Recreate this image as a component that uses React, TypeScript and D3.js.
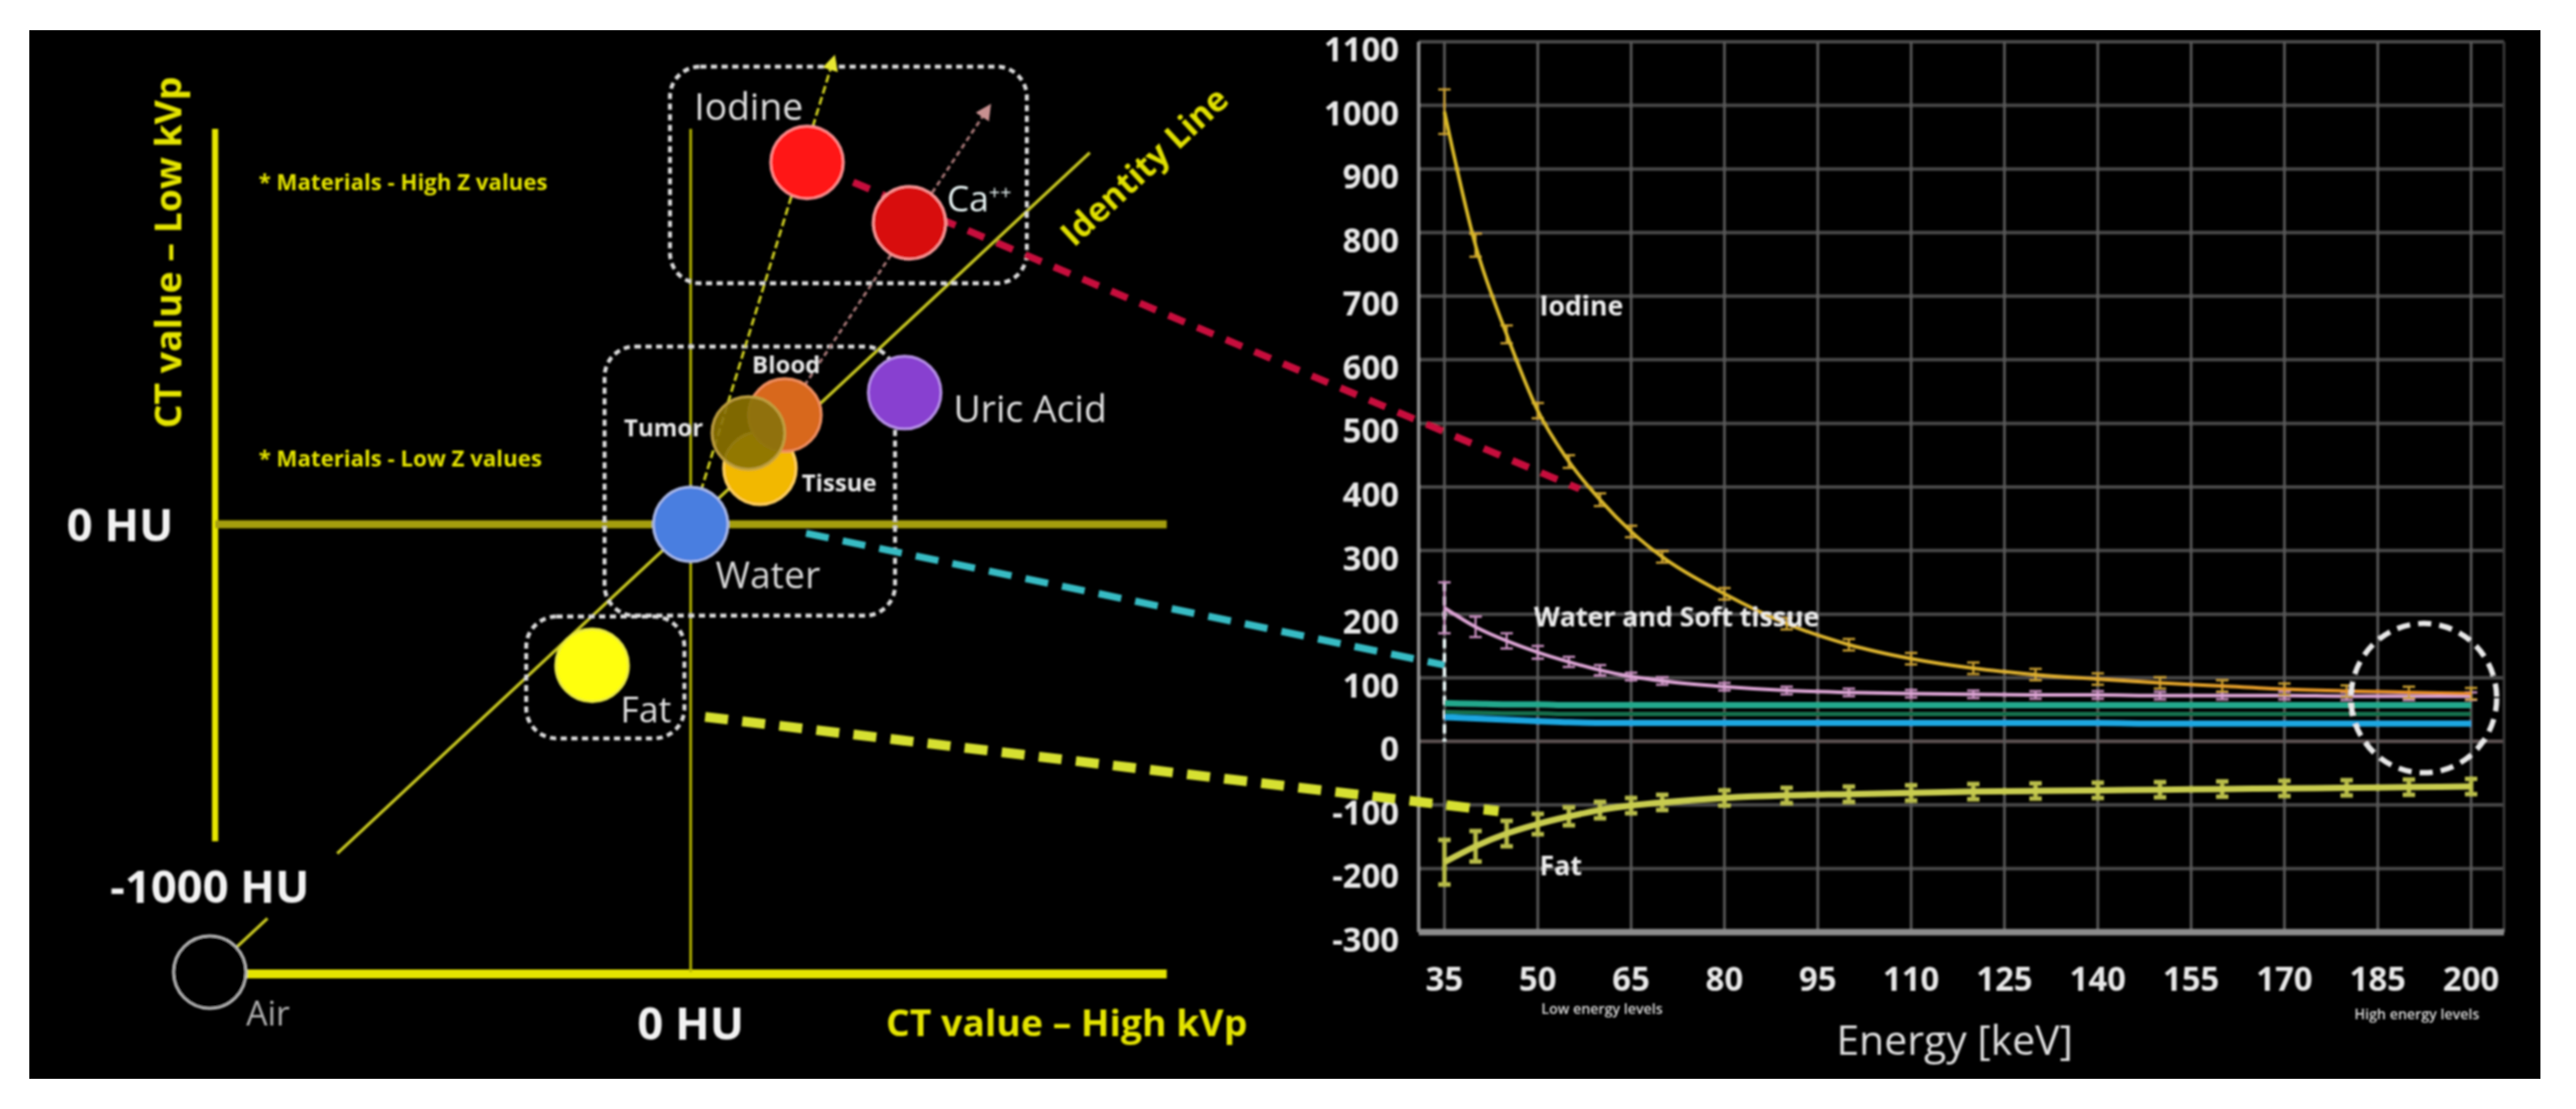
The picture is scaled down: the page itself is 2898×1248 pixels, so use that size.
import React, { useEffect, useRef } from "react";
import * as d3 from "d3";

// ---- right panel: CT value (HU) against virtual mono energy (keV)
const energyTicks = [35, 50, 65, 80, 95, 110, 125, 140, 155, 170, 185, 200];
const huTicks = [-300, -200, -100, 0, 100, 200, 300, 400, 500, 600, 700, 800, 900, 1000, 1100];
const energies = [35, 40, 45, 50, 55, 60, 65, 70, 80, 90, 100, 110, 120, 130, 140, 150, 160, 170, 180, 190, 200];
const iodineHU = [990, 780, 640, 520, 440, 380, 330, 290, 232, 185, 152, 130, 115, 105, 98, 92, 87, 82, 79, 77, 75];
const iodineErr = [35, 18, 14, 12, 10, 10, 9, 9, 9, 9, 9, 9, 9, 9, 9, 9, 9, 9, 9, 9, 9];
const waterHU = [210, 180, 158, 140, 125, 112, 102, 95, 86, 80, 77, 75, 74, 73, 73, 72, 72, 72, 71, 71, 71];
const waterErr = [40, 16, 12, 10, 8, 8, 6, 6, 6, 6, 6, 6, 6, 6, 6, 6, 6, 6, 6, 6, 6];
const tealHU = [60, 59, 58, 58, 57, 57, 57, 57, 57, 57, 57, 57, 57, 57, 57, 57, 57, 57, 57, 57, 57];
const greenHU = [46, 45, 44, 44, 43, 43, 43, 43, 43, 43, 43, 43, 43, 43, 43, 43, 43, 43, 43, 43, 43];
const cyanHU = [38, 36, 34, 32, 30, 29, 29, 29, 29, 29, 29, 29, 29, 29, 29, 28, 28, 28, 28, 28, 28];
const fatHU = [-190, -165, -145, -130, -118, -108, -101, -96, -89, -85, -83, -81, -79, -78, -77, -76, -75, -74, -73, -72, -71];
const fatErr = [35, 24, 20, 16, 14, 13, 12, 12, 12, 12, 12, 12, 12, 12, 12, 12, 12, 12, 12, 12, 12];

// ---- left panel: CT value at high kVp (x) against low kVp (y), HU
const materials = ["Air", "Fat", "Water", "Tissue", "Blood", "Tumor", "Uric Acid", "Iodine", "Ca"];
const highKvpHU = [-1000, -205, 0, 144, 196, 120, 445, 242, 455];
const lowKvpHU = [-1000, -315, 0, 125, 244, 204, 294, 808, 673];

const matStyle: Record<string, any> = {
  Air: { fill: "#000", stroke: "#b8b8b8", text: "#b0b0b0", dx: 41, dy: 60, size: 38, weight: 400 },
  Fat: { fill: "#ffff10", stroke: "#e8e840", text: "#e0e0e0", dx: 32, dy: 64, size: 40, weight: 400 },
  Water: { fill: "#4a7ee0", stroke: "#a8b8e8", text: "#d8d8d8", dx: 28, dy: 72, size: 42, weight: 400 },
  Tissue: { fill: "#f2b800", stroke: "#ffd060", text: "#e8e8e8", dx: 47, dy: 26, size: 27, weight: 700 },
  Blood: { fill: "#d8681e", stroke: "#f09060", text: "#e8e8e8", dx: -37, dy: -47, size: 27, weight: 700 },
  Tumor: { fill: "#8a7206", stroke: "#c0a040", text: "#e8e8e8", dx: -51, dy: 4, size: 27, weight: 700, anchor: "end" },
  "Uric Acid": { fill: "#8840d0", stroke: "#b890e8", text: "#e0e0e0", dx: 55, dy: 33, size: 42, weight: 400 },
  Iodine: { fill: "#ff1414", stroke: "#ff9090", text: "#e0e0e0", dx: -127, dy: -48, size: 42, weight: 400 },
  Ca: { fill: "#d80a0a", stroke: "#ff9a9a", text: "#e8f4f4", dx: 42, dy: -13, size: 40, weight: 400 },
};

// grouping boxes, in HU of the left panel [x0, x1, yTop, yBottom]
const boxesHU = [
  [-43, 699, 1022, 538],
  [-179, 425, 397, -204],
  [-342, -13, -206, -478],
];

// dashed links from the left panel (HU, HU) to the right panel (keV, HU)
const linkFrom = [[338, 764], [240, -20], [30, -430]];
const linkTo = [[56.7, 397], [35, 120], [43.7, -110]];
const linkColor = ["#c8103c", "#38bcc4", "#d6e030"];

function App() {
  const ref = useRef<SVGSVGElement | null>(null);

  useEffect(() => {
    drawChart();
  }, []);

  const drawChart = () => {
    const W = 2898, H = 1248;
    const svg = d3.select(ref.current);
    svg.selectAll("*").remove();

    const defs = svg.append("defs");
    defs.append("filter").attr("id", "soft")
      .append("feGaussianBlur").attr("stdDeviation", 0.9);
    const addArrow = (id: string, color: string) => {
      defs.append("marker").attr("id", id)
        .attr("viewBox", "0 0 10 10").attr("refX", 8).attr("refY", 5)
        .attr("markerWidth", 6).attr("markerHeight", 6).attr("orient", "auto")
        .append("path").attr("d", "M0,0 L10,5 L0,10 z").attr("fill", color);
    };
    addArrow("arrYellow", "#e8e830");
    addArrow("arrPink", "#c89090");
    const grad = defs.append("linearGradient").attr("id", "iodGrad")
      .attr("gradientUnits", "userSpaceOnUse");

    svg.append("rect").attr("width", W).attr("height", H).attr("fill", "#fff");
    svg.append("rect").attr("x", 33).attr("y", 34).attr("width", 2825).attr("height", 1180).attr("fill", "#000");

    const g = svg.append("g").attr("filter", "url(#soft)");

    // ================= right panel =================
    const xR = d3.scaleLinear().domain([35, 200]).range([1625, 2780]);
    const yR = d3.scaleLinear().domain([-300, 1100]).range([1049, 47]);
    const left = xR(35) - 29, right = xR(200) + 37;
    grad.attr("x1", xR(35)).attr("x2", xR(200)).attr("y1", 0).attr("y2", 0);
    grad.append("stop").attr("offset", 0).attr("stop-color", "#d8b828");
    grad.append("stop").attr("offset", 0.55).attr("stop-color", "#dcb030");
    grad.append("stop").attr("offset", 1).attr("stop-color", "#e88a24");

    const grid = g.append("g");
    grid.selectAll("line.h").data(huTicks).enter().append("line")
      .attr("x1", left).attr("x2", right)
      .attr("y1", d => yR(d)).attr("y2", d => yR(d))
      .attr("stroke", d => (d === 0 ? "#5e5252" : "#474747"))
      .attr("stroke-width", d => (d === -300 ? 7 : 4));
    grid.selectAll("line.v").data(energyTicks).enter().append("line")
      .attr("x1", d => xR(d)).attr("x2", d => xR(d))
      .attr("y1", yR(1100)).attr("y2", yR(-300))
      .attr("stroke", "#5a5a5a").attr("stroke-width", 3);
    grid.append("line").attr("x1", left).attr("x2", left)
      .attr("y1", yR(1100)).attr("y2", yR(-300))
      .attr("stroke", "#8a8a8a").attr("stroke-width", 4);
    grid.append("line").attr("x1", right).attr("x2", right)
      .attr("y1", yR(1100)).attr("y2", yR(-300))
      .attr("stroke", "#3a3a3a").attr("stroke-width", 3);
    grid.append("line").attr("x1", left).attr("x2", right)
      .attr("y1", yR(-300)).attr("y2", yR(-300))
      .attr("stroke", "#8c8c8c").attr("stroke-width", 7);

    const rFont = "'Open Sans', 'DejaVu Sans', sans-serif";
    g.append("g").selectAll("text").data(huTicks).enter().append("text")
      .attr("x", left - 22).attr("y", d => yR(d) + 22)
      .attr("text-anchor", "end").attr("fill", "#e8e8e8")
      .style("font-family", rFont).style("font-weight", 700).style("font-size", "37px")
      .text(d => String(d));
    g.append("g").selectAll("text").data(energyTicks).enter().append("text")
      .attr("x", d => xR(d)).attr("y", yR(-300) + 66)
      .attr("text-anchor", "middle").attr("fill", "#e8e8e8")
      .style("font-family", rFont).style("font-weight", 700).style("font-size", "37px")
      .text(d => String(d));
    g.append("text").attr("x", xR(50) + 4).attr("y", yR(-300) + 92)
      .attr("fill", "#dcdcdc").style("font-family", rFont).style("font-weight", 600)
      .style("font-size", "16px").text("Low energy levels");
    g.append("text").attr("x", xR(194) - 19).attr("y", yR(-300) + 98)
      .attr("text-anchor", "middle")
      .attr("fill", "#dcdcdc").style("font-family", rFont).style("font-weight", 600)
      .style("font-size", "16px").text("High energy levels");
    g.append("text").attr("x", xR(117)).attr("y", yR(-300) + 138)
      .attr("text-anchor", "middle").attr("fill", "#e0e0e0")
      .style("font-family", rFont).style("font-size", "46px").text("Energy [keV]");

    const curve = d3.line<number>()
      .x((d, i) => xR(energies[i]))
      .y(d => yR(d))
      .curve(d3.curveMonotoneX);

    const errorBars = (vals: number[], errs: number[], color: string, w: number) => {
      const eg = g.append("g").attr("stroke", color).attr("stroke-width", w).attr("fill", "none");
      vals.forEach((v, i) => {
        const x = xR(energies[i]);
        eg.append("line").attr("x1", x).attr("x2", x).attr("y1", yR(v - errs[i])).attr("y2", yR(v + errs[i]));
        eg.append("line").attr("x1", x - 7).attr("x2", x + 7).attr("y1", yR(v - errs[i])).attr("y2", yR(v - errs[i]));
        eg.append("line").attr("x1", x - 7).attr("x2", x + 7).attr("y1", yR(v + errs[i])).attr("y2", yR(v + errs[i]));
      });
    };

    // white dashed bar at the lowest energy
    g.append("line").attr("x1", xR(35)).attr("x2", xR(35))
      .attr("y1", yR(waterHU[0] + waterErr[0])).attr("y2", yR(0))
      .attr("stroke", "#e8f4f4").attr("stroke-width", 4).attr("stroke-dasharray", "10,6");

    const lines: [number[], string, number][] = [
      [cyanHU, "#1aa6e0", 7],
      [greenHU, "#17704e", 5],
      [tealHU, "#24a88c", 7],
    ];
    lines.forEach(([vals, color, w]) => {
      g.append("path").datum(vals).attr("d", curve)
        .attr("fill", "none").attr("stroke", color).attr("stroke-width", w);
    });

    errorBars(fatHU, fatErr, "#b8bc48", 5);
    g.append("path").datum(fatHU).attr("d", curve)
      .attr("fill", "none").attr("stroke", "#c8cc50").attr("stroke-width", 7);

    errorBars(waterHU, waterErr, "#c890c0", 2.5);
    g.append("path").datum(waterHU).attr("d", curve)
      .attr("fill", "none").attr("stroke", "#dca4d4").attr("stroke-width", 4);

    errorBars(iodineHU, iodineErr, "#caa030", 2.5);
    g.append("path").datum(iodineHU).attr("d", curve)
      .attr("fill", "none").attr("stroke", "url(#iodGrad)").attr("stroke-width", 4);

    const rLabel = (txt: string, e: number, v: number) =>
      g.append("text").attr("x", xR(e)).attr("y", yR(v))
        .attr("fill", "#ececec").style("font-family", rFont).style("font-weight", 700)
        .style("font-size", "30px").text(txt);
    rLabel("Iodine", 50.3, 670);
    rLabel("Water and Soft tissue", 49.4, 180);
    rLabel("Fat", 50.3, -210);

    g.append("ellipse").attr("cx", xR(192.4)).attr("cy", yR(68))
      .attr("rx", 82).attr("ry", 84)
      .attr("fill", "none").attr("stroke", "#e8e8e8").attr("stroke-width", 6)
      .attr("stroke-dasharray", "15,9");

    // ================= left panel =================
    const xL = d3.scaleLinear().domain([-1000, 1000]).range([236, 1318]);
    const yL = d3.scaleLinear().domain([-1000, 1000]).range([1094, 86]);
    const lFont = "'Open Sans', 'DejaVu Sans', sans-serif";

    // axes
    g.append("line").attr("x1", xL(-1000) + 6).attr("x2", xL(-1000) + 6)
      .attr("y1", yL(883)).attr("y2", yL(-708))
      .attr("stroke", "#e8e800").attr("stroke-width", 7);
    g.append("line").attr("x1", xL(-935)).attr("x2", xL(990))
      .attr("y1", yL(-1000) + 2).attr("y2", yL(-1000) + 2)
      .attr("stroke", "#e4e400").attr("stroke-width", 10);
    g.append("line").attr("x1", xL(-1000) + 6).attr("x2", xL(990))
      .attr("y1", yL(0)).attr("y2", yL(0))
      .attr("stroke", "#a49e08").attr("stroke-width", 9);
    g.append("line").attr("x1", xL(0)).attr("x2", xL(0))
      .attr("y1", yL(883)).attr("y2", yL(-1000))
      .attr("stroke", "#b8b800").attr("stroke-width", 3);

    // identity line (y = x), broken around the -1000 HU label
    [[-945, -880], [-735, 830]].forEach(([a, b]) => {
      g.append("line").attr("x1", xL(a)).attr("y1", yL(a)).attr("x2", xL(b)).attr("y2", yL(b))
        .attr("stroke", "#c8c820").attr("stroke-width", 3.5);
    });
    g.append("text")
      .attr("transform", `translate(${xL(960)},${yL(780)}) rotate(-43)`)
      .attr("text-anchor", "middle").attr("fill", "#e0e000")
      .style("font-family", lFont).style("font-weight", 700).style("font-size", "38px")
      .text("Identity Line");

    // boxes
    g.append("g").selectAll("rect").data(boxesHU).enter().append("rect")
      .attr("x", d => xL(d[0])).attr("y", d => yL(d[2]))
      .attr("width", d => xL(d[1]) - xL(d[0])).attr("height", d => yL(d[3]) - yL(d[2]))
      .attr("rx", 34).attr("fill", "none")
      .attr("stroke", "#dadada").attr("stroke-width", 4.5).attr("stroke-dasharray", "7,5");

    // dashed links to the right panel
    linkFrom.forEach((p, i) => {
      g.append("line")
        .attr("x1", xL(p[0])).attr("y1", yL(p[1]))
        .attr("x2", xR(linkTo[i][0])).attr("y2", yR(linkTo[i][1]))
        .attr("stroke", linkColor[i]).attr("stroke-width", i === 2 ? 11 : 8)
        .attr("stroke-dasharray", i === 0 ? "20,15" : "26,16");
    });

    // arrows from water / blood towards high-Z materials
    const iW = materials.indexOf("Water"), iB = materials.indexOf("Blood");
    g.append("line")
      .attr("x1", xL(highKvpHU[iW])).attr("y1", yL(lowKvpHU[iW]))
      .attr("x2", xL(298)).attr("y2", yL(1042))
      .attr("stroke", "#d0d020").attr("stroke-width", 3).attr("stroke-dasharray", "9,4")
      .attr("marker-end", "url(#arrYellow)");
    g.append("line")
      .attr("x1", xL(highKvpHU[iB])).attr("y1", yL(lowKvpHU[iB]))
      .attr("x2", xL(621)).attr("y2", yL(933))
      .attr("stroke", "#a87878").attr("stroke-width", 3).attr("stroke-dasharray", "6,4")
      .attr("marker-end", "url(#arrPink)");

    // material circles
    const mats = g.append("g");
    materials.forEach((m, i) => {
      const s = matStyle[m];
      const cx = xL(highKvpHU[i]), cy = yL(lowKvpHU[i]);
      mats.append("circle").attr("cx", cx).attr("cy", cy).attr("r", m === "Water" ? 42 : 41)
        .attr("fill", s.fill).attr("fill-opacity", m === "Tumor" ? 0.92 : 1)
        .attr("stroke", s.stroke).attr("stroke-width", 3);
    });
    materials.forEach((m, i) => {
      const s = matStyle[m];
      const t = mats.append("text")
        .attr("x", xL(highKvpHU[i]) + s.dx).attr("y", yL(lowKvpHU[i]) + s.dy)
        .attr("text-anchor", s.anchor || "start").attr("fill", s.text)
        .style("font-family", lFont).style("font-weight", s.weight).style("font-size", s.size + "px");
      if (m === "Ca") {
        t.append("tspan").text("Ca");
        t.append("tspan").attr("dy", -14).style("font-size", "22px").text("++");
      } else {
        t.text(m);
      }
    });

    // axis labels
    const white = (txt: string, x: number, y: number, anchor: string) =>
      g.append("text").attr("x", x).attr("y", y).attr("text-anchor", anchor)
        .attr("fill", "#f2f2f2").style("font-family", lFont).style("font-weight", 700)
        .style("font-size", "51px").text(txt);
    white("0 HU", xL(-1000) - 41, yL(0) + 19, "end");
    white("-1000 HU", xL(-1000), yL(-1000) - 78, "middle");
    white("0 HU", xL(0), yL(-1000) + 76, "middle");

    g.append("text").attr("x", 1200).attr("y", yL(-1000) + 72)
      .attr("text-anchor", "middle").attr("fill", "#e4e400")
      .style("font-family", lFont).style("font-weight", 700).style("font-size", "42px")
      .text("CT value – High kVp");
    g.append("text").attr("transform", `translate(${xL(-1000) - 32},284) rotate(-90)`)
      .attr("text-anchor", "middle").attr("fill", "#e4e400")
      .style("font-family", lFont).style("font-weight", 700).style("font-size", "42px")
      .text("CT value – Low kVp");
    const note = (txt: string, y: number) =>
      g.append("text").attr("x", 291).attr("y", y).attr("fill", "#e2e200")
        .style("font-family", lFont).style("font-weight", 700).style("font-size", "25px")
        .text(txt);
    note("* Materials - High Z values", 214);
    note("* Materials - Low Z values", 525);
  };

  return (
    <svg ref={ref} width={2898} height={1248}
      style={{ position: "absolute", left: 0, top: 0, display: "block" }} />
  );
}

export default App;
